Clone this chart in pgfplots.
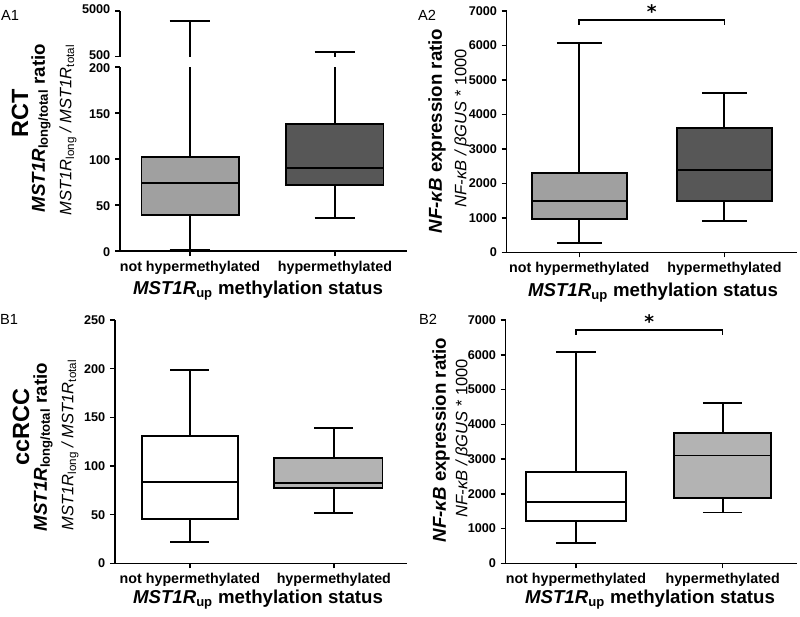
\documentclass[border=0pt]{standalone}
\usepackage{fontspec}
\setmainfont{Liberation Sans}
\newfontfamily\djv{DejaVu Sans}
\usepackage{pgfplots}
\pgfplotsset{compat=1.18}
\definecolor{gA}{HTML}{A0A0A0}
\definecolor{gB}{HTML}{575757}
\definecolor{gC}{HTML}{B3B3B3}
\newcommand{\px}{0.75pt}
\pgfplotsset{
  panel/.style={scale only axis, anchor=south west,
    axis y line*=left, axis x line*=bottom,
    axis line style={line width=1.1pt},
    every tick/.style={line width=1.1pt, black},
    major tick length=3.75pt, tick align=outside,
    xtick={0,1}, xticklabels={not hypermethylated, hypermethylated},
    x tick label style={font=\bfseries\fontsize{10.7}{12}\selectfont},
    y tick label style={font=\bfseries\fontsize{9.5}{11}\selectfont},
    /pgf/number format/assume math mode=true,
    /pgf/number format/1000 sep={}, scaled y ticks=false},
  bx/.style={draw=black, line width=1.4pt, solid, mark=none, line join=miter},
}
\newcommand{\fA}{\bfseries\fontsize{14}{16}\selectfont}
\newcommand{\fB}{\itshape\fontsize{12.4}{14}\selectfont}
\newcommand{\fP}{\fontsize{11}{12}\selectfont}
\newcommand{\fR}{\bfseries\fontsize{17.6}{20}\selectfont}
\newcommand{\fS}{\djv\bfseries\fontsize{14}{14}\selectfont}
% A1 boxes (both parts of the broken axis)
\newcommand{\AoneBoxes}{%
% not hypermethylated: min 1, Q1 39, median 74, Q3 102, max 4000
\addplot[bx, fill=gA] coordinates {(-0.335,39) (0.335,39) (0.335,102) (-0.335,102)} -- cycle;
\addplot[bx] coordinates {(-0.335,74) (0.335,74)};
\addplot[bx] coordinates {(0,102) (0,4000)};
\addplot[bx] coordinates {(-0.14,4000) (0.14,4000)};
\addplot[bx] coordinates {(0,39) (0,1)};
\addplot[bx] coordinates {(-0.14,1) (0.14,1)};
% hypermethylated: min 36, Q1 71.5, median 90, Q3 138, max 920
\addplot[bx, fill=gB] coordinates {(0.665,71.5) (1.335,71.5) (1.335,138) (0.665,138)} -- cycle;
\addplot[bx] coordinates {(0.665,90) (1.335,90)};
\addplot[bx] coordinates {(1,138) (1,920)};
\addplot[bx] coordinates {(0.86,920) (1.14,920)};
\addplot[bx] coordinates {(1,71.5) (1,36)};
\addplot[bx] coordinates {(0.86,36) (1.14,36)};
}
\begin{document}
\begin{tikzpicture}
\path[use as bounding box] (0,0) rectangle (600pt,-462.75pt);

% ---------- A1 lower ----------
\begin{axis}[panel, at={(90pt,-188.25pt)}, width=215.25pt, height=138pt,
  xmin=-0.483, xmax=1.497, ymin=0, ymax=200, ytick={0,50,100,150,200},
  y tick label style={yshift=-0.8pt}]
\AoneBoxes
\end{axis}
% ---------- A1 upper ----------
\begin{axis}[panel, at={(90pt,-42.525pt)}, width=215.25pt, height=34.275pt,
  axis x line=none, xtick=\empty,
  xmin=-0.483, xmax=1.497, ymin=500, ymax=5000, ytick={500,5000},
  y tick label style={yshift=1.2pt}]
\AoneBoxes
\end{axis}

% ---------- A2 ----------
\begin{axis}[panel, at={(380.025pt,-189.225pt)}, width=217.725pt, height=180.975pt,
  xmin=-0.5, xmax=1.5, ymin=0, ymax=7000, ytick={0,1000,...,7000}, clip=false]
\addplot[bx, fill=gA] coordinates {(-0.3275,975) (0.3275,975) (0.3275,2290) (-0.3275,2290)} -- cycle;
\addplot[bx] coordinates {(-0.3275,1480) (0.3275,1480)};
\addplot[bx] coordinates {(0,2290) (0,6080)};
\addplot[bx] coordinates {(-0.155,6080) (0.155,6080)};
\addplot[bx] coordinates {(0,975) (0,280)};
\addplot[bx] coordinates {(-0.155,280) (0.155,280)};
\addplot[bx, fill=gB] coordinates {(0.6725,1490) (1.3275,1490) (1.3275,3610) (0.6725,3610)} -- cycle;
\addplot[bx] coordinates {(0.6725,2400) (1.3275,2400)};
\addplot[bx] coordinates {(1,3610) (1,4620)};
\addplot[bx] coordinates {(0.845,4620) (1.155,4620)};
\addplot[bx] coordinates {(1,1490) (1,900)};
\addplot[bx] coordinates {(0.845,900) (1.155,900)};
\addplot[black, line width=1.2pt, mark=none] coordinates {(0,6600) (0,6740) (1,6740) (1,6600)};
\node[font=\fS, anchor=south, inner sep=1pt] at (axis cs:0.5,6740) {*};
\end{axis}

% ---------- B1 ----------
\begin{axis}[panel, at={(86.25pt,-422.475pt)}, width=219pt, height=182.475pt,
  xmin=-0.52, xmax=1.508, ymin=0, ymax=250, ytick={0,50,...,250}]
\addplot[bx, fill=white] coordinates {(-0.333,45.5) (0.333,45.5) (0.333,130.5) (-0.333,130.5)} -- cycle;
\addplot[bx] coordinates {(-0.333,83.5) (0.333,83.5)};
\addplot[bx] coordinates {(0,130.5) (0,199)};
\addplot[bx] coordinates {(-0.135,199) (0.135,199)};
\addplot[bx] coordinates {(0,45.5) (0,22)};
\addplot[bx] coordinates {(-0.135,22) (0.135,22)};
\addplot[bx, fill=gC] coordinates {(0.583,77.5) (1.338,77.5) (1.338,108.5) (0.583,108.5)} -- cycle;
\addplot[bx] coordinates {(0.583,82.5) (1.338,82.5)};
\addplot[bx] coordinates {(1,108.5) (1,139)};
\addplot[bx] coordinates {(0.865,139) (1.135,139)};
\addplot[bx] coordinates {(1,77.5) (1,52)};
\addplot[bx] coordinates {(0.865,52) (1.135,52)};
\end{axis}

% ---------- B2 ----------
\begin{axis}[panel, at={(379.275pt,-422.475pt)}, width=218.475pt, height=182.475pt,
  xmin=-0.479, xmax=1.507, ymin=0, ymax=7000, ytick={0,1000,...,7000}, clip=false]
\addplot[bx, fill=white] coordinates {(-0.341,1210) (0.339,1210) (0.339,2630) (-0.341,2630)} -- cycle;
\addplot[bx] coordinates {(-0.341,1760) (0.339,1760)};
\addplot[bx] coordinates {(0,2630) (0,6080)};
\addplot[bx] coordinates {(-0.135,6080) (0.135,6080)};
\addplot[bx] coordinates {(0,1210) (0,590)};
\addplot[bx] coordinates {(-0.135,590) (0.135,590)};
\addplot[bx, fill=gC] coordinates {(0.668,1870) (1.329,1870) (1.329,3760) (0.668,3760)} -- cycle;
\addplot[bx] coordinates {(0.668,3100) (1.329,3100)};
\addplot[bx] coordinates {(1,3760) (1,4620)};
\addplot[bx] coordinates {(0.865,4620) (1.135,4620)};
\addplot[bx] coordinates {(1,1870) (1,1460)};
\addplot[bx] coordinates {(0.865,1460) (1.135,1460)};
\addplot[black, line width=1.2pt, mark=none] coordinates {(0,6570) (0,6710) (1,6710) (1,6570)};
\node[font=\fS, anchor=south, inner sep=1pt] at (axis cs:0.5,6710) {*};
\end{axis}

% ---------- labels ----------
\node[font=\fP] at (10*\px,-15*\px) {A1};
\node[font=\fP] at (427*\px,-15*\px) {A2};
\node[font=\fP] at (9*\px,-319*\px) {B1};
\node[font=\fP] at (428*\px,-319*\px) {B2};
\node[font=\fR, rotate=90] at (20*\px,-113*\px) {RCT};
\node[font=\fR, rotate=90] at (21*\px,-427*\px) {ccRCC};

\node[font=\fA, rotate=90] at (41*\px,-128*\px) {\textit{MST1R}\textsubscript{long/total} ratio};
\node[font=\fB, rotate=90] at (68*\px,-130*\px) {MST1R\textsubscript{\upshape long} / MST1R\textsubscript{\upshape total}};
\node[font=\fA, rotate=90] at (43*\px,-447*\px) {\textit{MST1R}\textsubscript{long/total} ratio};
\node[font=\fB, rotate=90] at (70*\px,-445*\px) {MST1R\textsubscript{\upshape long} / MST1R\textsubscript{\upshape total}};

\node[font=\fA, rotate=90] at (437*\px,-131*\px) {\textit{NF-κB} expression ratio};
\node[font=\fB, rotate=90] at (462*\px,-128*\px) {NF-κB / βGUS {\upshape * 1000}};
\node[font=\fA, rotate=90] at (441*\px,-440*\px) {\textit{NF-κB} expression ratio};
\node[font=\fB, rotate=90] at (463*\px,-438*\px) {NF-κB / βGUS {\upshape * 1000}};

\node[font=\fA] at (258*\px,-291*\px) {\textit{MST1R}\textsubscript{up} methylation status};
\node[font=\fA] at (653*\px,-293*\px) {\textit{MST1R}\textsubscript{up} methylation status};
\node[font=\fA] at (258*\px,-600*\px) {\textit{MST1R}\textsubscript{up} methylation status};
\node[font=\fA] at (650*\px,-600*\px) {\textit{MST1R}\textsubscript{up} methylation status};
\end{tikzpicture}
\end{document}
